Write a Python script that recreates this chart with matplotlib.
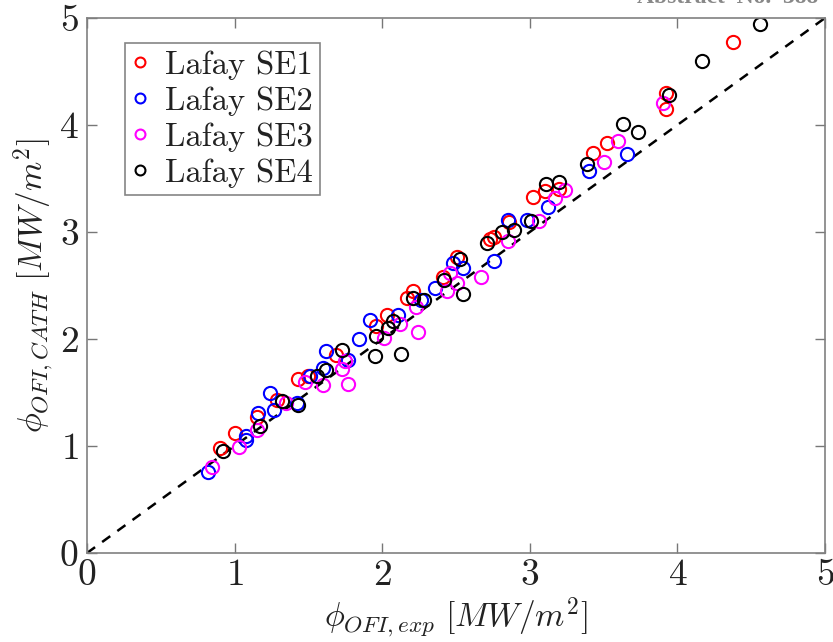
import matplotlib
matplotlib.use("Agg")
import matplotlib.pyplot as plt

plt.rcParams['mathtext.fontset'] = 'cm'
plt.rcParams['font.family'] = ['cmr10', 'DejaVu Serif']
plt.rcParams['axes.formatter.use_mathtext'] = True

# Experimental vs. CATHARE-predicted OFI heat flux, MW/m^2
se1_x = [0.90, 1.00, 1.15, 1.29, 1.43, 1.50, 1.69, 1.96, 2.03, 2.17, 2.21, 2.41, 2.51,
         2.73, 2.76, 2.86, 3.02, 3.10, 3.20, 3.43, 3.52, 3.92, 3.92, 4.38]
se1_y = [0.98, 1.12, 1.27, 1.43, 1.63, 1.65, 1.85, 2.12, 2.22, 2.38, 2.45, 2.58, 2.77,
         2.93, 2.95, 3.09, 3.33, 3.38, 3.40, 3.74, 3.83, 4.15, 4.30, 4.78]

se2_x = [0.82, 1.08, 1.08, 1.16, 1.24, 1.27, 1.42, 1.51, 1.60, 1.62, 1.77, 1.84, 1.92,
         2.11, 2.26, 2.36, 2.48, 2.55, 2.76, 2.85, 2.98, 3.12, 3.40, 3.66]
se2_y = [0.76, 1.06, 1.09, 1.31, 1.50, 1.34, 1.40, 1.65, 1.73, 1.89, 1.80, 2.00, 2.18,
         2.22, 2.36, 2.48, 2.71, 2.66, 2.73, 3.11, 3.11, 3.23, 3.57, 3.73]

se3_x = [0.85, 1.03, 1.15, 1.35, 1.48, 1.60, 1.73, 1.75, 1.77, 2.01, 2.12, 2.23, 2.24,
         2.44, 2.46, 2.51, 2.67, 2.85, 3.06, 3.17, 3.24, 3.50, 3.60, 3.90]
se3_y = [0.80, 0.99, 1.15, 1.40, 1.60, 1.57, 1.72, 1.79, 1.58, 2.01, 2.14, 2.30, 2.07,
         2.45, 2.62, 2.52, 2.58, 2.92, 3.10, 3.32, 3.39, 3.65, 3.85, 4.21]

se4_x = [0.92, 1.17, 1.32, 1.43, 1.56, 1.62, 1.73, 1.95, 1.96, 2.04, 2.07, 2.13, 2.21,
         2.28, 2.42, 2.53, 2.55, 2.71, 2.81, 2.89, 3.01, 3.11, 3.20, 3.39, 3.63, 3.73,
         3.94, 4.17, 4.56]
se4_y = [0.95, 1.19, 1.42, 1.38, 1.65, 1.71, 1.90, 1.84, 2.03, 2.10, 2.17, 1.86, 2.38,
         2.36, 2.55, 2.75, 2.42, 2.90, 3.00, 3.02, 3.10, 3.45, 3.47, 3.64, 4.01, 3.93,
         4.28, 4.60, 4.94]

series = [
    ("Lafay SE1", se1_x, se1_y, "#ff0000"),
    ("Lafay SE2", se2_x, se2_y, "#0000ff"),
    ("Lafay SE3", se3_x, se3_y, "#ff00ff"),
    ("Lafay SE4", se4_x, se4_y, "#000000"),
]

fig = plt.figure(figsize=(8.33, 6.42), dpi=100)
ax = fig.add_axes([0.1044, 0.1386, 0.8860, 0.8334])

for name, xs, ys, col in series:
    ax.plot(xs, ys, linestyle='none', marker='o', markersize=9.5,
            markerfacecolor='none', markeredgecolor=col, markeredgewidth=1.5,
            label=name)

ax.plot([0, 5], [0, 5], linestyle=(0, (4, 3.5)), color='black', linewidth=1.8, zorder=0)

ax.set_xlim(0, 5)
ax.set_ylim(0, 5)
ax.set_xticks([0, 1, 2, 3, 4, 5])
ax.set_yticks([0, 1, 2, 3, 4, 5])
ax.set_xticklabels([f"${v}$" for v in range(6)])
ax.set_yticklabels([f"${v}$" for v in range(6)])
ax.tick_params(direction='in', top=True, right=True, length=7, width=1.0,
               color='#777777', labelsize=27, labelcolor='#222222')
ax.tick_params(axis='x', pad=4)
ax.tick_params(axis='y', pad=6)
for s in ax.spines.values():
    s.set_color('#808080')
    s.set_linewidth(1.2)

ax.set_xlabel(r"$\phi_{OFI,exp}\ [MW/m^2]$", fontsize=24, color='#222222', labelpad=2)
ax.set_ylabel(r"$\phi_{OFI,CATH}\ [MW/m^2]$", fontsize=24, color='#222222', labelpad=2)

leg = ax.legend(loc='upper left', bbox_to_anchor=(0.0515, 0.953), borderaxespad=0,
                prop={'family': 'cmr10', 'size': 23.5}, frameon=True, fancybox=False,
                edgecolor='#666666', handlelength=0.5, handletextpad=0.5,
                borderpad=0.22, labelspacing=0.2, markerscale=0.75)
leg.get_frame().set_linewidth(1.2)
for t in leg.get_texts():
    t.set_color('#222222')

fig.text(0.982, 1.004, "Abstract  No.  388", ha='right', va='center',
         fontsize=17, color='#888888', family='Liberation Serif', weight='bold')

fig.savefig("out.png", dpi=100)
